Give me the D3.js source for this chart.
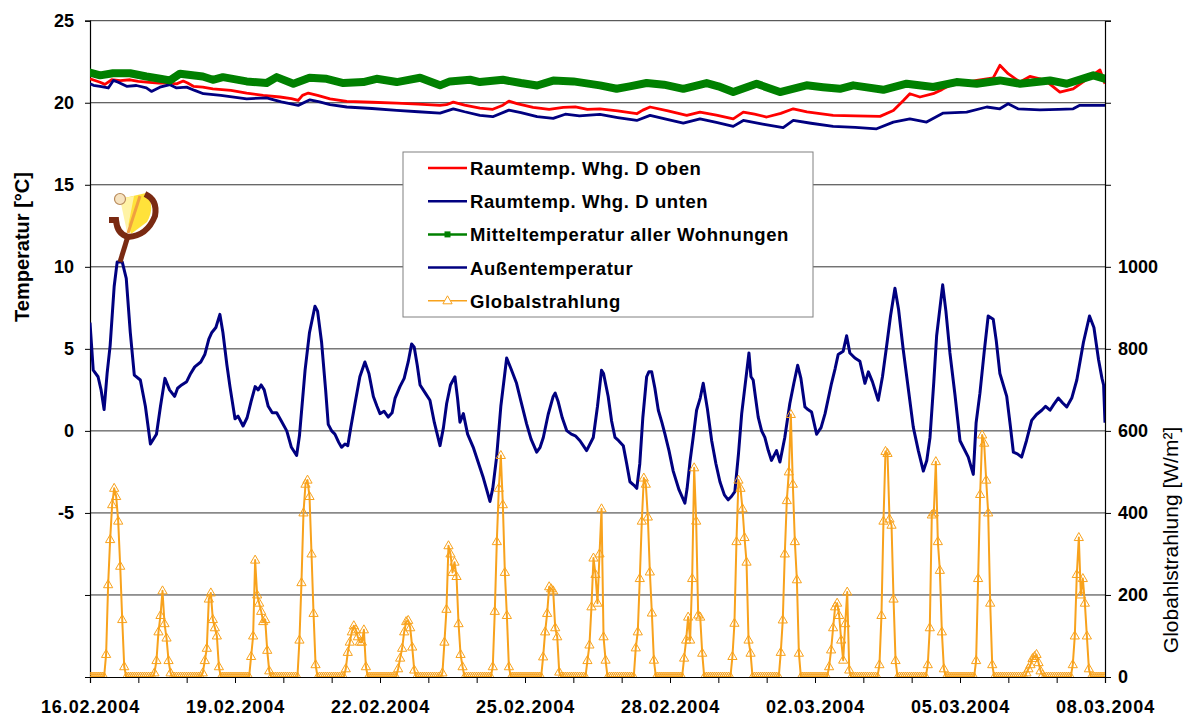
<!DOCTYPE html>
<html>
<head>
<meta charset="utf-8">
<script src="https://cdn.jsdelivr.net/npm/d3@7"></script>
<style>
  html, body { margin: 0; padding: 0; background: #fff; }
  svg { display: block; font-family: "Liberation Sans", Arial, sans-serif; }
</style>
</head>
<body>
<svg id="chart" width="1189" height="717"></svg>
<script>
// ---- data -----------------------------------------------------------------
// Hours are counted from 16.02.2004 00:00.
const startDate = new Date(2004, 1, 16);
const endDate = new Date(2004, 2, 8);

const dateTickLabels = ["16.02.2004", "19.02.2004", "22.02.2004", "25.02.2004",
  "28.02.2004", "02.03.2004", "05.03.2004", "08.03.2004"];
const tempTicks = [-15, -10, -5, 0, 5, 10, 15, 20, 25];
const tempTickLabels = ["", "", "-5", "0", "5", "10", "15", "20", "25"];
const radTicks = [0, 200, 400, 600, 800, 1000, 1200, 1400, 1600];
const radTickLabels = ["0", "200", "400", "600", "800", "1000", "", "", ""];

const seriesNames = ["Raumtemp. Whg. D oben", "Raumtemp. Whg. D unten",
  "Mitteltemperatur aller Wohnungen", "Außentemperatur", "Globalstrahlung"];

// [hour, °C]
const roomUpper = [[0,21.46],[5,21.25],[7.4,21.12],[10.8,21.4],[15,21.35],[19.9,21.4],[24,21.3],[28,21.26],[34,21.2],[39.7,21.2],[43,21.15],[46.3,21.32],[48.5,21.2],[51.3,21.0],[56,20.95],[61,20.85],[70,20.75],[77.8,20.59],[86,20.45],[94.3,20.35],[100,20.25],[103.4,20.14],[105.5,20.45],[108.4,20.59],[113,20.45],[119.2,20.24],[127.5,20.08],[140,20.03],[152.3,19.98],[163,19.92],[173.8,19.84],[177,19.88],[180.4,20.04],[186,19.85],[193.6,19.67],[200,19.6],[205,19.85],[208,20.1],[212,19.95],[220,19.72],[228,19.6],[235,19.72],[241,19.75],[247,19.6],[253.2,19.63],[262,19.5],[271.5,19.33],[274.5,19.55],[278.1,19.74],[287,19.5],[296.3,19.23],[302.9,19.43],[311,19.25],[319.4,19.02],[324.4,19.43],[330,19.3],[336,19.13],[343,19.35],[349.2,19.63],[356,19.45],[369,19.23],[380,19.2],[392.3,19.17],[398.9,19.53],[403.9,20.14],[407.1,20.55],[412.1,20.35],[418.7,20.55],[423,20.8],[427,21.06],[434,21.2],[440.3,21.36],[448.5,21.52],[451.8,22.28],[455.9,21.77],[461.8,21.26],[466.7,21.6],[471.7,21.46],[476,21.2],[481.6,20.65],[488.2,20.85],[496.5,21.56],[501.5,22.0],[504,21.16]];

const roomLower = [[0,21.16],[1.7,21.06],[5,21.0],[9.1,20.9],[11.6,21.36],[14,21.25],[18.2,21.0],[23,21.05],[28,20.91],[30.5,20.69],[34.7,20.95],[39.7,21.1],[43,20.9],[48,20.95],[52,20.75],[56.3,20.55],[65,20.45],[77.8,20.24],[87.7,20.3],[95,20.05],[103.4,19.84],[109.2,20.18],[114,20.05],[119.2,19.88],[127.5,19.74],[140,19.65],[152.3,19.53],[163,19.45],[173.8,19.37],[180.4,19.63],[186,19.45],[193.6,19.23],[200,19.15],[208,19.55],[214,19.4],[222,19.15],[230,19.05],[236,19.3],[243,19.2],[253.2,19.29],[262,19.1],[271.5,18.92],[278.1,19.23],[286,19.0],[294.6,18.76],[302.9,19.02],[311,18.8],[319.4,18.56],[324.4,18.92],[334,18.7],[344.2,18.48],[349.2,18.92],[358,18.75],[369,18.56],[380,18.5],[390.6,18.41],[398.9,18.82],[407.1,19.02],[415.4,18.82],[423.7,19.37],[435.3,19.43],[445.3,19.74],[451.8,19.63],[455.9,19.94],[460.8,19.63],[471.7,19.57],[481,19.6],[488.2,19.63],[491.5,19.84],[504,19.84]];

const roomMean = [[0,21.83],[5,21.67],[11.4,21.8],[19.9,21.8],[28,21.6],[34.8,21.46],[39.7,21.36],[44.7,21.77],[56,21.6],[61,21.4],[66,21.56],[77.8,21.3],[87.7,21.2],[92.7,21.56],[101,21.16],[109,21.52],[117.5,21.46],[125.8,21.2],[135.7,21.26],[142.3,21.46],[152.3,21.26],[163.9,21.52],[173.8,21.06],[178.7,21.3],[188.7,21.4],[193.6,21.26],[205,21.4],[214,21.2],[222,21.05],[230,21.35],[240,21.3],[253.2,21.06],[261.5,20.85],[268,21.0],[276.4,21.2],[285,21.1],[294.6,20.85],[306.2,21.2],[312,21.0],[319.4,20.65],[325,20.9],[331,21.16],[342.6,20.65],[355.8,21.06],[364,20.95],[372.4,20.85],[379,21.06],[393.9,20.79],[405.5,21.16],[418.7,20.96],[430.3,21.26],[440.3,21.16],[451.8,21.36],[461.8,21.16],[476.7,21.36],[485,21.16],[498.2,21.67],[504,21.46]];

const outdoor = [[0,6.6],[1.6,3.7],[4,3.3],[5.5,2.5],[7,1.3],[8.5,3.5],[10,5.2],[12,8.8],[13.5,10.3],[16,10.3],[18,9.3],[20,6],[22,3.4],[25,3.1],[27.5,1.5],[30,-0.8],[33,-0.2],[35,1.5],[37.2,3.2],[39.5,2.5],[42,2.1],[43.5,2.6],[45.5,2.8],[48,3],[50,3.5],[52,3.9],[55,4.2],[57,4.65],[59,5.6],[60.5,6.0],[62.5,6.3],[64.5,7.1],[66,6.0],[68,4],[69.5,2.7],[72,0.74],[73.5,0.9],[76,0.3],[78,0.8],[80,1.8],[82,2.7],[83.5,2.5],[85,2.8],[86.5,2.5],[88.5,1.5],[90.5,1.1],[92.7,1.1],[95,0.6],[97.7,0],[100,-1.0],[102.6,-1.5],[104,-0.3],[106.8,3.7],[109,6.0],[111.7,7.6],[113,7.3],[115,5.4],[117,2.5],[118.3,0.4],[120,0.0],[121.6,-0.2],[123.5,-0.7],[124.9,-1.0],[126.6,-0.8],[128,-0.9],[129.5,0.2],[131.6,1.67],[134,3.3],[136.5,4.2],[138.5,3.5],[140.7,2.1],[142.5,1.5],[144,1.05],[146,1.2],[148.1,0.84],[150,1.1],[151.5,2],[153.9,2.7],[156,3.2],[158,4.2],[159.7,5.3],[161,5.1],[162.5,4],[163.9,2.8],[166.5,2.3],[168.8,1.87],[171,0.5],[173.8,-0.9],[175.5,0.2],[177.1,1.67],[179,2.8],[181.2,3.3],[182.5,2.0],[183.7,0.53],[185.4,1.05],[187.5,-0.2],[190.3,-1.0],[193,-2.0],[195.3,-2.86],[197,-3.6],[198.6,-4.3],[200,-3.5],[201.9,-1.6],[204,1.5],[206.9,4.44],[209,3.8],[211.8,2.9],[214,1.8],[216.8,0.43],[219,-0.5],[221.8,-1.3],[223.5,-1.0],[225.1,-0.4],[227.5,1.0],[230,2.1],[231,2.3],[232.5,1.77],[234.5,0.8],[236.7,0.02],[239,-0.2],[241,-0.3],[243.3,-0.6],[246.6,-1.2],[249.9,-0.4],[252,1.5],[254,3.7],[255,3.5],[257.3,2.1],[259,0.6],[260.7,-0.4],[262.5,-0.6],[264.8,-0.9],[266.5,-2.0],[268.1,-3.1],[270,-3.3],[271.5,-3.5],[273,-2],[274.5,0.8],[276.4,3.3],[277.5,3.6],[278.9,3.6],[280.5,2.6],[282.2,1.26],[284,0.5],[285.5,-0.2],[287.5,-1.2],[289.6,-2.45],[292.5,-3.6],[295.4,-4.4],[296.5,-3.5],[297.9,-1.9],[299.5,-0.4],[301.2,1.26],[303,2.0],[304.5,2.9],[306.5,1.4],[308.7,-0.6],[310.8,-2.0],[312.8,-3.1],[315,-3.9],[316.9,-4.2],[318.5,-4.0],[320.2,-3.7],[322,-1.4],[323.6,1.05],[325.5,3.0],[327.2,4.75],[328.2,3.3],[329.3,3.1],[330.5,2.0],[331.8,0.84],[333.5,0.0],[335.1,-0.4],[336.8,-1.2],[338.4,-1.8],[340.9,-1.2],[342.6,-1.9],[345,-0.4],[347.5,1.67],[349.5,2.9],[351.4,4.0],[353,3.2],[355,1.46],[356.5,1.3],[358.3,1.15],[360.8,-0.2],[363,0.2],[365,1.05],[368.2,2.9],[370,3.8],[371.5,4.65],[374,4.86],[375.7,5.8],[377.3,4.75],[379.8,4.44],[382.3,4.24],[384.8,2.9],[386.5,3.6],[388.5,3.0],[391.4,1.87],[393.5,3.3],[395.6,5.2],[397.5,7.0],[399.7,8.7],[401.5,7.4],[403.8,4.96],[406.3,2.6],[408.8,0.23],[411.3,-1.2],[413.8,-2.45],[415.5,-1.8],[417.1,-0.4],[419,3.0],[420.4,5.8],[423.4,8.9],[425,7.3],[427,4.75],[429.5,2.2],[432,-0.6],[436.1,-1.6],[438.6,-2.65],[440,0.5],[441.9,2.3],[444,4.8],[446,7.0],[448.5,6.8],[450,5.5],[451.8,3.5],[455.2,2.1],[457,0.3],[458.5,-1.3],[460.5,-1.4],[462.6,-1.6],[465,-0.6],[467.6,0.64],[470,1.0],[472.6,1.26],[474.5,1.5],[476.7,1.26],[478.5,1.6],[480.8,2.0],[483,1.7],[485,1.46],[487.5,2.0],[490,3.1],[493.3,5.4],[496.3,7.0],[498.5,6.3],[500.8,4.34],[502.5,3.2],[503.3,2.8],[504,0.5]];

// Global radiation in W/m², hourly values from 07:00 to 17:00 for each day;
// all other hours of the day are zero.
const sunHours = [7, 8, 9, 10, 11, 12, 13, 14, 15, 16, 17];
const radiationDaytime = [
  [0, 55, 225, 335, 420, 460, 440, 380, 270, 140, 25],   // 16.02.
  [0, 10, 40, 110, 150, 210, 130, 95, 40, 10, 0],        // 17.02.
  [0, 10, 40, 70, 190, 205, 140, 120, 100, 25, 0],       // 18.02.
  [0, 50, 100, 285, 200, 180, 160, 135, 140, 65, 15],    // 19.02.
  [0, 90, 230, 400, 470, 480, 440, 300, 155, 30, 0],     // 20.02.
  [20, 60, 85, 110, 125, 115, 98, 85, 85, 115, 25],      // 21.02.
  [0, 0, 20, 46, 70, 110, 135, 138, 120, 73, 17],        // 22.02.
  [10, 85, 165, 320, 300, 255, 280, 245, 130, 55, 25],   // 23.02.
  [0, 25, 160, 330, 460, 540, 420, 255, 150, 25, 0],     // 24.02.
  [0, 0, 49, 110, 155, 220, 215, 210, 120, 98, 12],      // 25.02.
  [40, 78, 171, 290, 250, 180, 300, 410, 98, 41, 0],     // 26.02.
  [71, 110, 240, 380, 485, 470, 390, 256, 156, 41, 0],   // 27.02.
  [46, 90, 146, 90, 240, 510, 380, 151, 146, 58, 0],     // 28.02.
  [50, 131, 330, 480, 460, 410, 340, 280, 90, 58, 0],    // 29.02.
  [60, 139, 300, 430, 500, 640, 470, 330, 237, 58, 0],   // 01.03.
  [25, 66, 120, 171, 180, 150, 90, 41, 130, 207, 17],    // 02.03.
  [0, 30, 150, 380, 550, 545, 385, 370, 190, 40, 0],     // 03.03.
  [0, 30, 120, 395, 400, 525, 330, 260, 110, 20, 0],     // 04.03.
  [0, 40, 240, 445, 590, 570, 480, 400, 180, 30, 0],     // 05.03.
  [0, 0, 10, 20, 30, 45, 50, 55, 35, 15, 5],             // 06.03.
  [0, 30, 100, 250, 340, 200, 240, 180, 100, 20, 0]      // 07.03.
];

// ---- layout ----------------------------------------------------------------
const plot = { left: 90, right: 1105, top: 20.7, bottom: 677 };
const colors = { upper: "#ff0000", lower: "#000080", mean: "#008000",
  outdoor: "#000080", rad: "#f8a21c", grid: "#333333" };

const svg = d3.select("#chart");
const hourToDate = h => new Date(startDate.getTime() + h * 3600e3);

const x = d3.scaleTime().domain([startDate, endDate]).range([plot.left, plot.right]);
const yT = d3.scaleLinear().domain([-15, 25]).range([plot.bottom, plot.top]);
const yR = d3.scaleLinear().domain([0, 1600]).range([plot.bottom, plot.top]);

svg.append("defs").append("clipPath").attr("id", "plotClip")
  .append("rect")
  .attr("x", plot.left).attr("y", plot.top)
  .attr("width", plot.right - plot.left).attr("height", plot.bottom - plot.top);

// Horizontal grid lines every 5 °C
svg.append("g").selectAll("line")
  .data(tempTicks.slice(1))
  .join("line")
  .attr("x1", plot.left).attr("x2", plot.right)
  .attr("y1", d => yT(d)).attr("y2", d => yT(d))
  .attr("stroke", colors.grid).attr("stroke-width", 1);

// ---- axes ------------------------------------------------------------------
const labelFont = g => g.selectAll("text")
  .attr("font-family", "Liberation Sans, Arial, sans-serif")
  .attr("font-weight", "bold").attr("fill", "#000");

const leftAxis = svg.append("g")
  .attr("transform", `translate(${plot.left},0)`)
  .call(d3.axisLeft(yT).tickValues(tempTicks)
    .tickFormat((d, i) => tempTickLabels[i]).tickSize(5).tickPadding(11));
leftAxis.call(labelFont).selectAll("text").attr("font-size", 18);

const rightAxis = svg.append("g")
  .attr("transform", `translate(${plot.right},0)`)
  .call(d3.axisRight(yR).tickValues(radTicks)
    .tickFormat((d, i) => radTickLabels[i]).tickSize(6).tickPadding(7));
rightAxis.call(labelFont).selectAll("text").attr("font-size", 18);

const parseLabel = d3.timeParse("%d.%m.%Y");
const dayTicks = d3.timeDay.range(startDate, d3.timeDay.offset(endDate, 1));
const bottomAxis = svg.append("g")
  .attr("transform", `translate(0,${plot.bottom})`)
  .call(d3.axisBottom(x).tickValues(dayTicks)
    .tickFormat(d => {
      const lbl = dateTickLabels.find(s => +parseLabel(s) === +d);
      return lbl || "";
    }).tickSize(6).tickPadding(17));
bottomAxis.call(labelFont).selectAll("text")
  .attr("font-size", 18).attr("letter-spacing", 0.9);

[leftAxis, rightAxis, bottomAxis].forEach(g => {
  g.select(".domain").attr("stroke", "#000").attr("stroke-width", 1.2);
  g.selectAll(".tick line").attr("stroke", "#000");
});

// Axis titles
svg.append("text")
  .attr("transform", `translate(29,247) rotate(-90)`)
  .attr("text-anchor", "middle")
  .attr("font-size", 20).attr("font-weight", "bold")
  .text("Temperatur [°C]");

svg.append("text")
  .attr("transform", `translate(1178,540) rotate(-90)`)
  .attr("text-anchor", "middle")
  .attr("font-size", 21).attr("font-weight", "normal")
  .text("Globahlstrahlung [W/m²]");

// ---- series ----------------------------------------------------------------
const tempLine = d3.line().x(d => x(hourToDate(d[0]))).y(d => yT(d[1]));
const series = svg.append("g").attr("clip-path", "url(#plotClip)");

series.append("path").datum(roomUpper).attr("d", tempLine)
  .attr("fill", "none").attr("stroke", colors.upper).attr("stroke-width", 2.8)
  .attr("stroke-linejoin", "round");
series.append("path").datum(roomLower).attr("d", tempLine)
  .attr("fill", "none").attr("stroke", colors.lower).attr("stroke-width", 2.8)
  .attr("stroke-linejoin", "round");
series.append("path").datum(roomMean).attr("d", tempLine)
  .attr("fill", "none").attr("stroke", colors.mean).attr("stroke-width", 8)
  .attr("stroke-linejoin", "round").attr("stroke-linecap", "square");
series.append("path").datum(outdoor).attr("d", tempLine)
  .attr("fill", "none").attr("stroke", colors.outdoor).attr("stroke-width", 3)
  .attr("stroke-linejoin", "round");

// Hourly radiation series built from the daytime table
const radiation = [];
radiationDaytime.forEach((day, di) => {
  for (let hr = 0; hr < 24; hr++) {
    const k = sunHours.indexOf(hr);
    radiation.push([di * 24 + hr, k >= 0 ? day[k] : 0]);
  }
});
radiation.push([radiationDaytime.length * 24, 0]);

const radLine = d3.line().x(d => x(hourToDate(d[0]))).y(d => yR(d[1]));
series.append("path").datum(radiation).attr("d", radLine)
  .attr("fill", "none").attr("stroke", colors.rad).attr("stroke-width", 2)
  .attr("stroke-linejoin", "round");

const triangle = "M0,-5L4.6,3L-4.6,3Z";
series.append("g").selectAll("path")
  .data(radiation)
  .join("path")
  .attr("d", triangle)
  .attr("transform", d => `translate(${x(hourToDate(d[0]))},${yR(d[1])})`)
  .attr("fill", "none").attr("stroke", colors.rad).attr("stroke-width", 1);

// ---- emblem above the first outdoor peak ------------------------------------
const emblem = svg.append("g");
emblem.append("path")
  .attr("d", "M120,199 L146,193 Q156,206 147,222 L131,234 Z")
  .attr("fill", "#ffe23a");
emblem.append("path")
  .attr("d", "M120,199 L134,196 L127,232 Z")
  .attr("fill", "#fff3a6");
emblem.append("path")
  .attr("d", "M140,196 L128,233")
  .attr("stroke", "#f0a040").attr("stroke-width", 3);
emblem.append("path")
  .attr("d", "M109,220 L116,220 Q117,234 128,237 Q147,236 155,216 Q158,200 145,194")
  .attr("fill", "none").attr("stroke", "#7a2a12").attr("stroke-width", 6);
emblem.append("path")
  .attr("d", "M128,236 L120,262")
  .attr("stroke", "#7a2a12").attr("stroke-width", 5);
emblem.append("circle").attr("cx", 120).attr("cy", 199).attr("r", 5.5)
  .attr("fill", "#f6e3c0").attr("stroke", "#b88a5a").attr("stroke-width", 1.2);

// ---- legend ----------------------------------------------------------------
const legend = svg.append("g");
legend.append("rect")
  .attr("x", 403).attr("y", 152).attr("width", 410).attr("height", 165)
  .attr("fill", "#fff").attr("stroke", "#808080").attr("stroke-width", 1);

const legendColors = [colors.upper, colors.lower, colors.mean, colors.outdoor, colors.rad];
const rows = legend.selectAll("g.row")
  .data(seriesNames)
  .join("g").attr("class", "row")
  .attr("transform", (d, i) => `translate(0,${168 + i * 33.2})`);

rows.append("line")
  .attr("x1", 428).attr("x2", 467).attr("y1", 0).attr("y2", 0)
  .attr("stroke", (d, i) => legendColors[i])
  .attr("stroke-width", (d, i) => i === 4 ? 1.5 : 2.5);
rows.filter((d, i) => i === 2).append("rect")
  .attr("x", 444.5).attr("y", -3).attr("width", 6).attr("height", 6)
  .attr("fill", colors.mean);
rows.filter((d, i) => i === 4).append("path")
  .attr("d", triangle).attr("transform", "translate(447.5,0)")
  .attr("fill", "#fff").attr("stroke", colors.rad);
rows.append("text")
  .attr("x", 470).attr("y", 7)
  .attr("font-size", 18.5).attr("font-weight", "bold")
  .attr("letter-spacing", 0.6)
  .text(d => d);
</script>
</body>
</html>
